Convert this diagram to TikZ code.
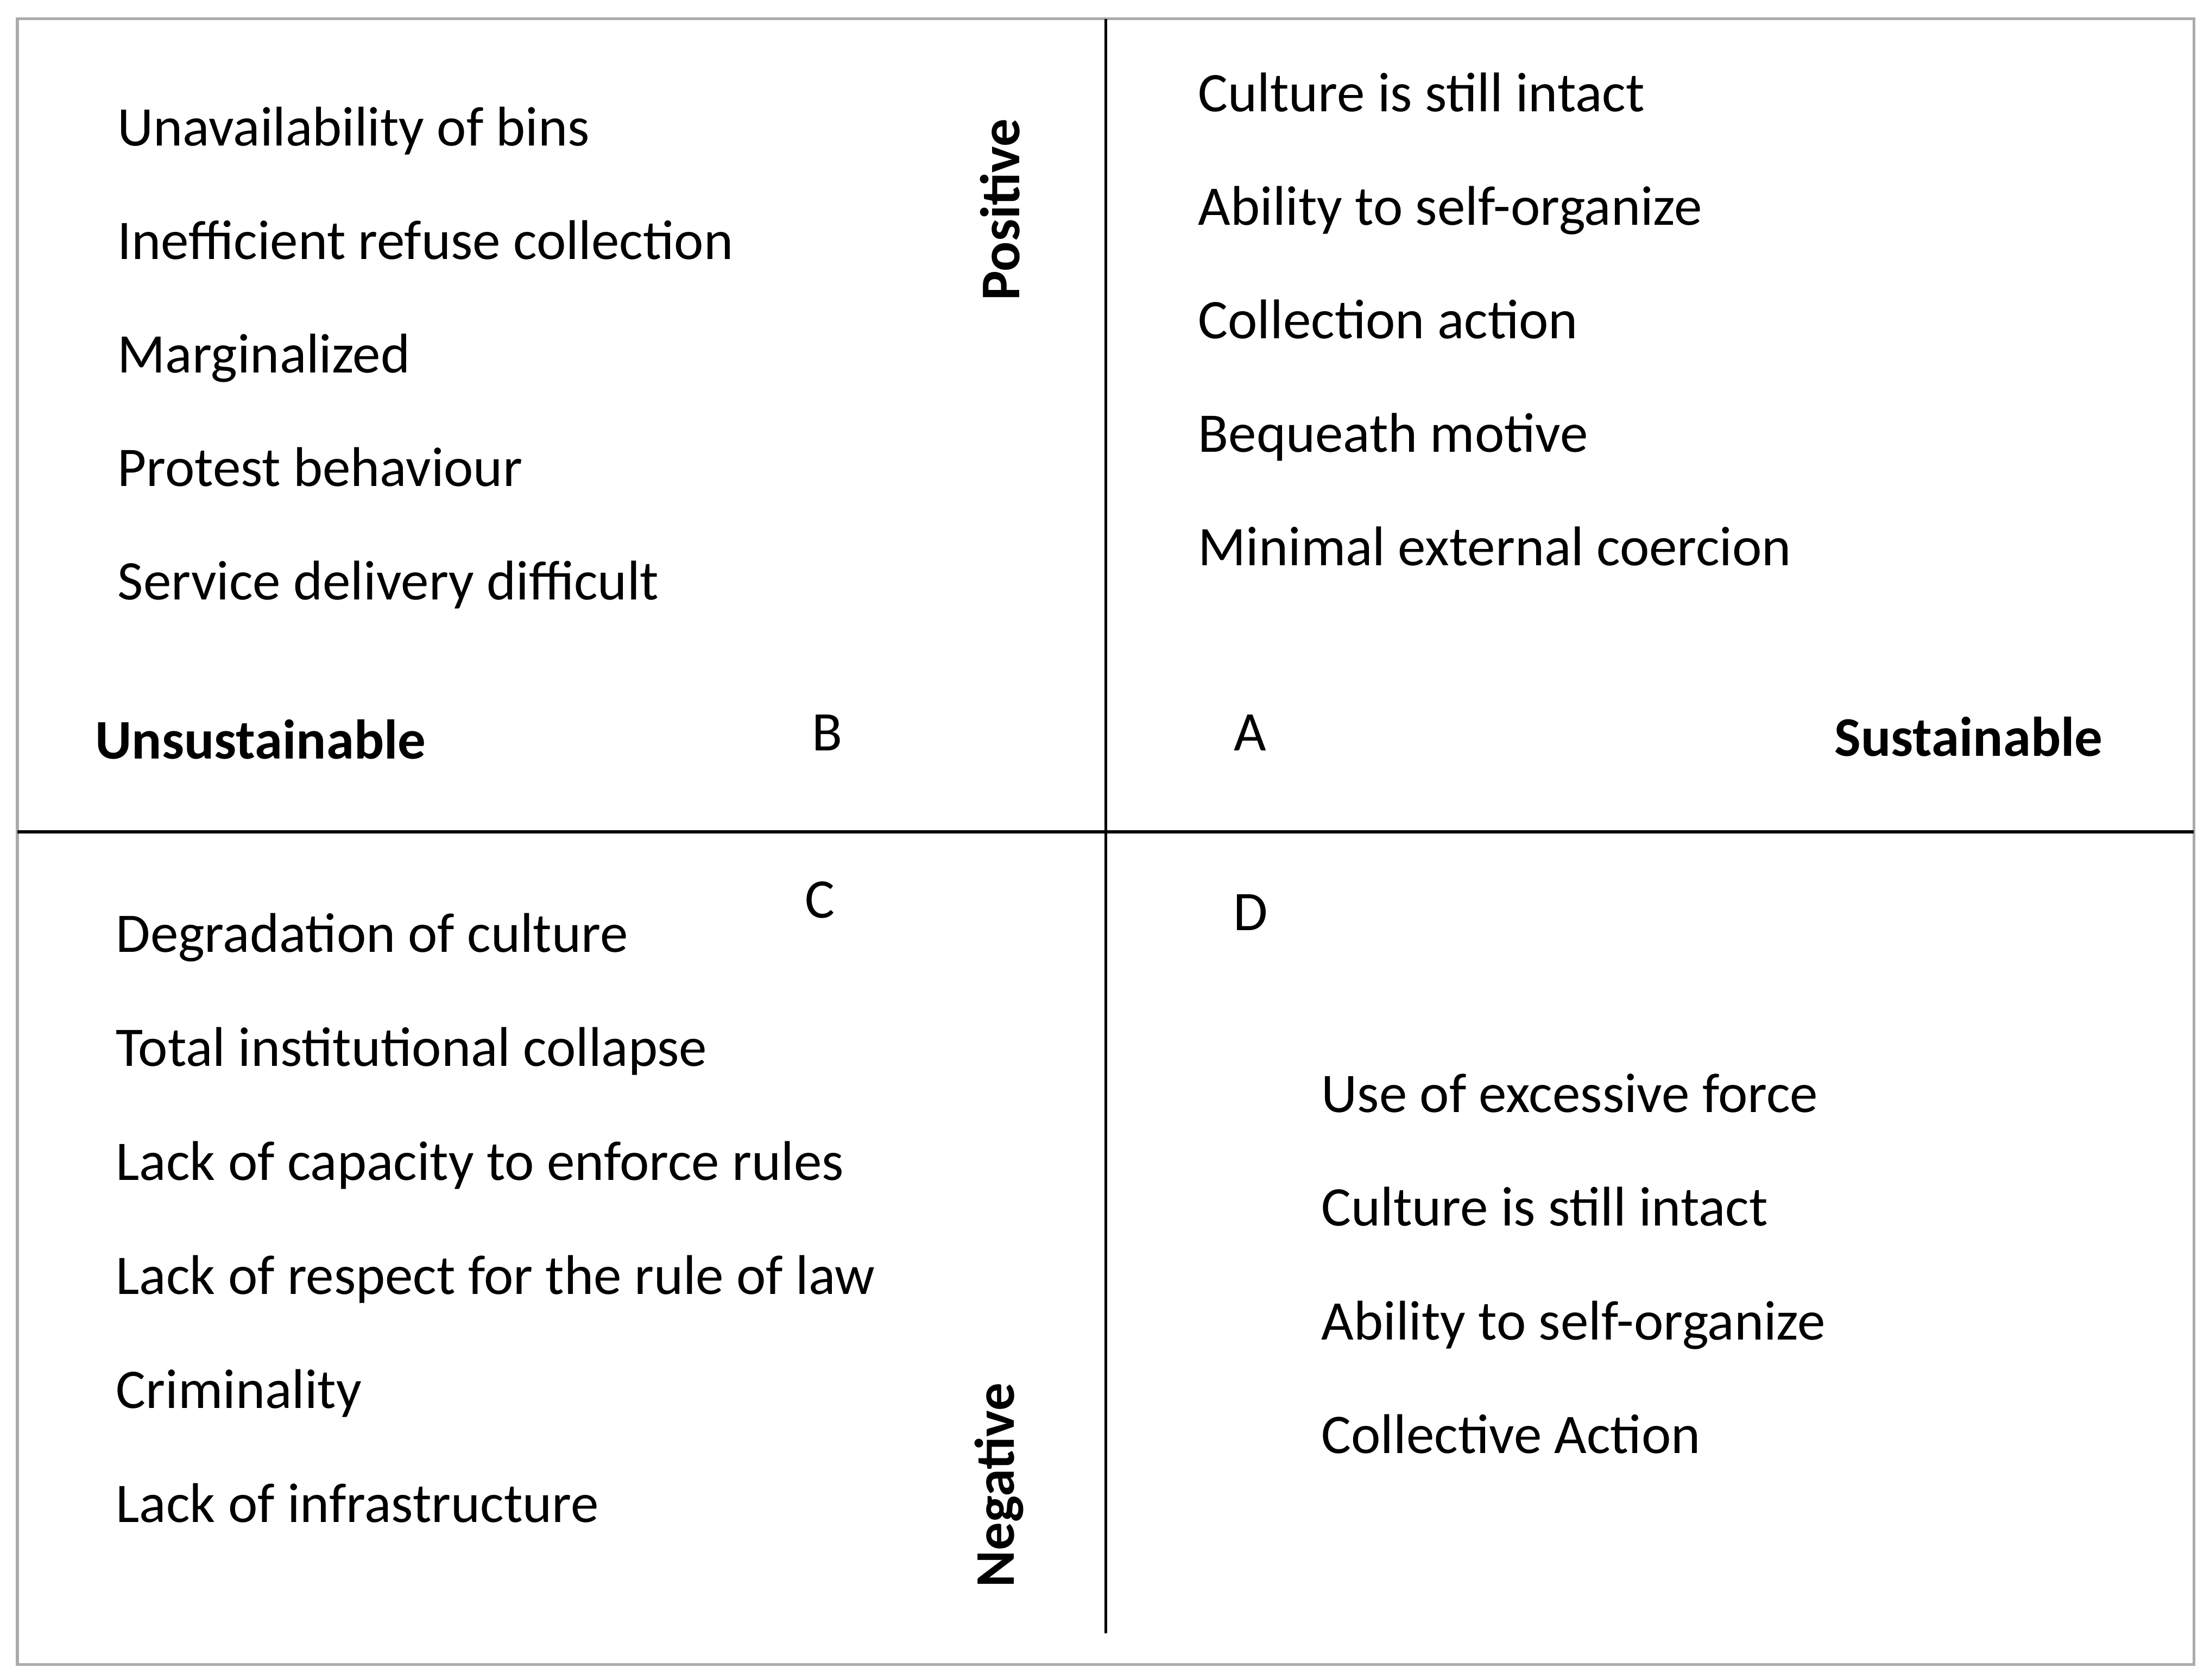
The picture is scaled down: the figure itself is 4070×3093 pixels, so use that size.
\documentclass[tikz,border=0pt]{standalone}
\usepackage{fontspec}
\setmainfont{Carlito}
\begin{document}
\begin{tikzpicture}[x=0.01cm,y=0.01cm,
  item/.style={anchor=base west,inner sep=0pt,font=\fontsize{29.3pt}{35pt}\selectfont},
  letter/.style={anchor=base west,inner sep=0pt,font=\fontsize{29.3pt}{35pt}\selectfont},
  axislabel/.style={anchor=base west,inner sep=0pt,font=\fontsize{29.3pt}{35pt}\selectfont\bfseries},
  vlabel/.style={anchor=base,rotate=90,inner sep=0pt,font=\fontsize{29.3pt}{35pt}\selectfont\bfseries},
  frameline/.style={draw=black!33,line width=0.05cm},
  axisline/.style={draw=black,line width=0.055cm}]
\useasboundingbox (0,-3093) rectangle (4070,0);
% frame
\coordinate (fTL) at (32,-34.5);
\coordinate (fBR) at (4040.5,-3065.5);
\draw[frameline] (fTL) rectangle (fBR);
% axes
\coordinate (hL) at (32,-1532);
\coordinate (hR) at (4040,-1532);
\coordinate (vT) at (2036.5,-34.5);
\coordinate (vB) at (2036.5,-3008);
\draw[axisline] (hL) -- (hR);
\draw[axisline] (vT) -- (vB);
% quadrant B (top left)
\node[item] (b1) at (216,-268) {Unavailability of bins};
\node[item] (b2) at (216,-477) {Inefficient refuse collection};
\node[item] (b3) at (216,-686) {Marginalized};
\node[item] (b4) at (216,-895) {Protest behaviour};
\node[item] (b5) at (216,-1104) {Service delivery difficult};
% quadrant A (top right)
\node[item] (a1) at (2206,-205) {Culture is still intact};
\node[item] (a2) at (2206,-414) {Ability to self-organize};
\node[item] (a3) at (2206,-623) {Collection action};
\node[item] (a4) at (2206,-832) {Bequeath motive};
\node[item] (a5) at (2206,-1041) {Minimal external coercion};
% quadrant C (bottom left)
\node[item] (c1) at (213,-1753) {Degradation of culture};
\node[item] (c2) at (213,-1963) {Total institutional collapse};
\node[item] (c3) at (213,-2173) {Lack of capacity to enforce rules};
\node[item] (c4) at (213,-2383) {Lack of respect for the rule of law};
\node[item] (c5) at (213,-2593) {Criminality};
\node[item] (c6) at (213,-2803) {Lack of infrastructure};
% quadrant D (bottom right)
\node[item] (d1) at (2433,-2048) {Use of excessive force};
\node[item] (d2) at (2433,-2257) {Culture is still intact};
\node[item] (d3) at (2433,-2467) {Ability to self-organize};
\node[item] (d4) at (2433,-2676) {Collective Action};
% quadrant letters
\node[letter] (lA) at (2272,-1382) {A};
\node[letter] (lB) at (1495,-1382) {B};
\node[letter] (lC) at (1482,-1690) {C};
\node[letter] (lD) at (2271,-1713) {D};
% axis labels
\node[axislabel] (uns) at (175,-1397) {Unsustainable};
\node[axislabel] (sus) at (3378,-1392) {Sustainable};
\node[vlabel] (pos) at (1877,-386) {Positive};
\node[vlabel] (neg) at (1867,-2735) {Negative};
\end{tikzpicture}
\end{document}
